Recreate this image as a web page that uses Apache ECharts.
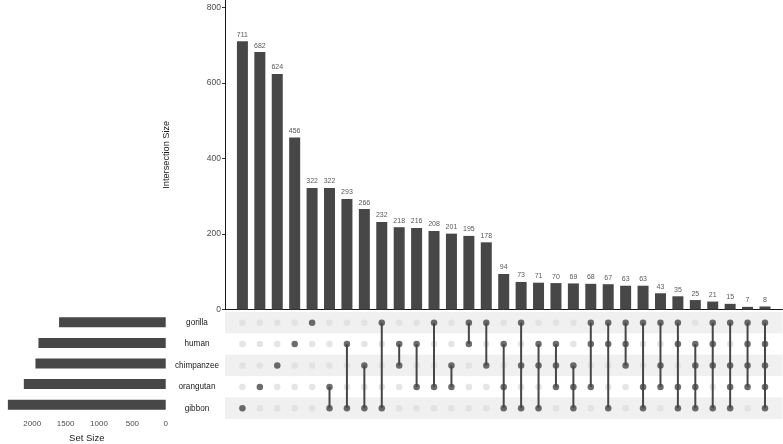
<!DOCTYPE html>
<html>
<head>
<meta charset="utf-8">
<script src="https://cdn.jsdelivr.net/npm/echarts@6/dist/echarts.min.js"></script>
<style>
  html, body { margin: 0; padding: 0; background: #fff; }
  #chart { width: 783px; height: 444px; }
</style>
</head>
<body>
<div id="chart"></div>
<script>
// sets, top to bottom in the matrix
const setNames = ['gorilla', 'human', 'chimpanzee', 'orangutan', 'gibbon'];
const setSizes = [1598, 1907, 1952, 2126, 2365];

// intersections, left to right
const intersectionSizes = [711, 682, 624, 456, 322, 322, 293, 266, 232, 218, 216, 208, 201, 195, 178,
  94, 73, 71, 70, 69, 68, 67, 63, 63, 43, 35, 25, 21, 15, 7, 8];
const intersectionSets = [
  ['gibbon'],
  ['orangutan'],
  ['chimpanzee'],
  ['human'],
  ['gorilla'],
  ['orangutan', 'gibbon'],
  ['human', 'gibbon'],
  ['chimpanzee', 'gibbon'],
  ['gorilla', 'gibbon'],
  ['human', 'chimpanzee'],
  ['human', 'orangutan'],
  ['gorilla', 'orangutan'],
  ['chimpanzee', 'orangutan'],
  ['gorilla', 'human'],
  ['gorilla', 'chimpanzee'],
  ['human', 'orangutan', 'gibbon'],
  ['gorilla', 'chimpanzee', 'gibbon'],
  ['human', 'chimpanzee', 'gibbon'],
  ['human', 'chimpanzee', 'orangutan'],
  ['chimpanzee', 'orangutan', 'gibbon'],
  ['gorilla', 'human', 'orangutan'],
  ['gorilla', 'human', 'gibbon'],
  ['gorilla', 'human', 'chimpanzee'],
  ['gorilla', 'orangutan', 'gibbon'],
  ['gorilla', 'chimpanzee', 'orangutan'],
  ['gorilla', 'human', 'orangutan', 'gibbon'],
  ['human', 'chimpanzee', 'orangutan', 'gibbon'],
  ['gorilla', 'human', 'chimpanzee', 'gibbon'],
  ['gorilla', 'chimpanzee', 'orangutan', 'gibbon'],
  ['gorilla', 'human', 'chimpanzee', 'orangutan'],
  ['gorilla', 'human', 'chimpanzee', 'orangutan', 'gibbon']
];
const intersectionTicks = [0, 200, 400, 600, 800];
const setSizeTicks = [0, 500, 1000, 1500, 2000];

const FONT = 'Liberation Sans';
const DARK = '#474747';

const barData = intersectionSizes.map((v, i) => [i + 1, v]);
const dotsOff = [];
const dotsOn = [];
const segs = [];
intersectionSets.forEach((members, i) => {
  const idx = members.map(m => setNames.indexOf(m));
  setNames.forEach((s, j) => {
    (idx.includes(j) ? dotsOn : dotsOff).push([i + 1, j]);
  });
  if (idx.length > 1) segs.push([i + 1, Math.min(...idx), Math.max(...idx)]);
});

const chart = echarts.init(document.getElementById('chart'), null, { renderer: 'canvas' });

const option = {
  animation: false,
  textStyle: { fontFamily: FONT },
  grid: [
    { left: 225, right: 0.6, top: 0, height: 309.5 },       // intersection bars
    { left: 225, right: 0.6, top: 312, height: 107 },       // matrix
    { left: 0, right: 609.4, top: 312, height: 107 }        // set sizes
  ],
  xAxis: [
    {
      gridIndex: 0, type: 'value', min: 0, max: 32,
      axisLine: { lineStyle: { color: '#1a1a1a', width: 1 } },
      axisTick: { show: false }, axisLabel: { show: false }, splitLine: { show: false }
    },
    {
      gridIndex: 1, type: 'value', min: 0, max: 32, show: false
    },
    {
      gridIndex: 2, type: 'value', min: -118, max: 2483, inverse: true,
      name: 'Set Size', nameLocation: 'middle', nameGap: 18,
      nameTextStyle: { fontSize: 9.5, color: '#1a1a1a', fontFamily: FONT },
      axisLine: { onZero: false, lineStyle: { color: '#1a1a1a', width: 1 } },
      axisTick: { customValues: setSizeTicks, length: 3, lineStyle: { color: '#333' } },
      axisLabel: { customValues: setSizeTicks, formatter: v => String(v), fontSize: 8, color: '#4d4d4d',
        margin: 5, fontFamily: FONT },
      splitLine: { show: false }
    }
  ],
  yAxis: [
    {
      gridIndex: 0, type: 'value', min: 0, max: 820,
      name: 'Intersection Size', nameLocation: 'middle', nameGap: 54, nameRotate: 90,
      nameTextStyle: { fontSize: 9.2, color: '#1a1a1a', fontFamily: FONT },
      axisLine: { show: true, lineStyle: { color: '#1a1a1a', width: 1 } },
      axisTick: { show: true, customValues: intersectionTicks, length: 3, lineStyle: { color: '#333' } },
      axisLabel: { customValues: intersectionTicks, fontSize: 8.5, color: '#4d4d4d', margin: 4, fontFamily: FONT },
      splitLine: { show: false }
    },
    {
      gridIndex: 1, type: 'category', data: setNames, inverse: true,
      axisLine: { show: false }, axisTick: { show: false },
      axisLabel: { align: 'center', margin: 28, fontSize: 8.2, color: '#1a1a1a', fontFamily: FONT },
      splitArea: { show: true, areaStyle: { color: ['#f0f0f0', '#ffffff'] } },
      splitLine: { show: false }
    },
    {
      gridIndex: 2, type: 'category', data: setNames, inverse: true,
      axisLine: { show: false }, axisTick: { show: false }, axisLabel: { show: false }
    }
  ],
  series: [
    {
      type: 'bar', xAxisIndex: 0, yAxisIndex: 0, data: barData, barWidth: 11,
      itemStyle: { color: DARK },
      label: { show: true, position: 'top', distance: 3, fontSize: 7, color: '#595959', fontFamily: FONT,
        formatter: p => p.value[1] }
    },
    {
      type: 'scatter', xAxisIndex: 1, yAxisIndex: 1, data: dotsOff, symbolSize: 6.5,
      itemStyle: { color: '#dedede' }, z: 2
    },
    {
      type: 'custom', xAxisIndex: 1, yAxisIndex: 1, data: segs, z: 3,
      renderItem: (params, api) => {
        const x = api.value(0);
        const p1 = api.coord([x, api.value(1)]);
        const p2 = api.coord([x, api.value(2)]);
        return {
          type: 'line',
          shape: { x1: p1[0], y1: p1[1], x2: p2[0], y2: p2[1] },
          style: { stroke: DARK, lineWidth: 2 }
        };
      }
    },
    {
      type: 'scatter', xAxisIndex: 1, yAxisIndex: 1, data: dotsOn, symbolSize: 6.5,
      itemStyle: { color: DARK }, z: 4
    },
    {
      type: 'bar', xAxisIndex: 2, yAxisIndex: 2, data: setSizes, barWidth: 10,
      itemStyle: { color: DARK }
    }
  ]
};

chart.setOption(option);
</script>
</body>
</html>
